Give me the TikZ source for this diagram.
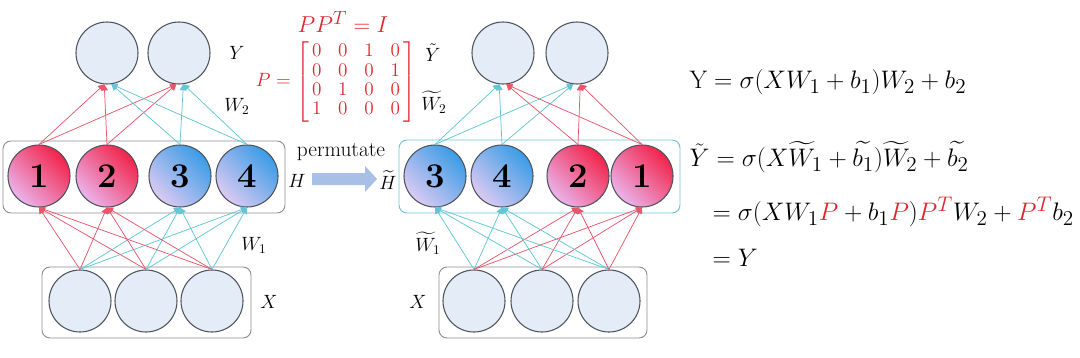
\documentclass[tikz,border=0pt]{standalone}
\usepackage{amsmath}
\usepackage{graphicx}
\usetikzlibrary{arrows.meta}
\definecolor{redc}{HTML}{E8566A}
\definecolor{bluec}{HTML}{62C6D6}
\definecolor{circfill}{HTML}{E4ECF8}
\definecolor{circdraw}{HTML}{4E535C}
\definecolor{eqred}{HTML}{E0262E}
\definecolor{redtop}{HTML}{F2234A}
\definecolor{redbot}{HTML}{EAB4EC}
\definecolor{bluetop}{HTML}{3A9CE6}
\definecolor{bluebot}{HTML}{DCCAF2}
\definecolor{arrowc}{HTML}{A9C0E6}
\definecolor{boxgray}{HTML}{8A8E96}
\definecolor{boxcyan}{HTML}{6CC4DA}
\newcommand{\eqsc}[1]{\scalebox{1.1}{#1}}
\begin{document}
\begin{tikzpicture}[x=0.75pt,y=-0.75pt,
  cbase/.style={circle, draw=circdraw, line width=0.8pt, minimum size=46.5pt, inner sep=0pt},
  plain/.style={cbase, fill=circfill},
  hred/.style={cbase, top color=redtop, bottom color=redbot, shading angle=-45, font=\rmfamily\bfseries\fontsize{26}{28}\selectfont},
  hblue/.style={cbase, top color=bluetop, bottom color=bluebot, shading angle=-45, font=\rmfamily\bfseries\fontsize{26}{28}\selectfont},
  redl/.style={draw=redc, line width=0.55pt, -{Triangle[length=4.5pt,width=5pt]}},
  bluel/.style={draw=bluec, line width=0.55pt, -{Triangle[length=4.5pt,width=5pt]}},
  lab/.style={font=\fontsize{14}{16}\selectfont, inner sep=1pt},
  hbox/.style={line width=0.7pt, rounded corners=6pt},
  eq/.style={anchor=west, font=\fontsize{19}{22}\selectfont, inner sep=1pt}
]
\useasboundingbox[fill=white] (0,0) rectangle (1080,357);

% boxes
\draw[hbox, draw=boxgray] (3,141) rectangle (285,213);
\draw[hbox, draw=boxgray] (42,267) rectangle (251,338);
\draw[hbox, draw=boxcyan] (399,140) rectangle (680,213);
\draw[hbox, draw=boxgray] (439,267) rectangle (647,338);

% left network
\node[plain] (y1) at (107,53) {};
\node[plain] (y2) at (179,53) {};
\node[hred] (h1) at (39,176) {1};
\node[hred] (h2) at (107,176) {2};
\node[hblue] (h3) at (180,176) {3};
\node[hblue] (h4) at (247,176) {4};
\node[plain] (x1) at (80,301) {};
\node[plain] (x2) at (146,301) {};
\node[plain] (x3) at (212,301) {};

% right network
\node[plain] (ry1) at (503,53) {};
\node[plain] (ry2) at (577,53) {};
\node[hblue] (rh3) at (435,176) {3};
\node[hblue] (rh4) at (502,176) {4};
\node[hred] (rh2) at (578,176) {2};
\node[hred] (rh1) at (642,176) {1};
\node[plain] (rx1) at (474,301) {};
\node[plain] (rx2) at (542,301) {};
\node[plain] (rx3) at (609,301) {};

% left connectors
\foreach \h in {h1,h2}{\foreach \y in {y1,y2}{\draw[redl] (\h.north) -- (\y.-95);}}
\foreach \h in {h3,h4}{\foreach \y in {y1,y2}{\draw[bluel] (\h.north) -- (\y.-82);}}
\foreach \x in {x1,x2,x3}{
  \foreach \h in {h1,h2}{\draw[redl] (\x.north) -- (\h.south);}
  \foreach \h in {h3,h4}{\draw[bluel] (\x.north) -- (\h.south);}
}
% right connectors
\foreach \h in {rh3,rh4}{\foreach \y in {ry1,ry2}{\draw[bluel] (\h.north) -- (\y.-97);}}
\foreach \h in {rh2,rh1}{\foreach \y in {ry1,ry2}{\draw[redl] (\h.north) -- (\y.-84);}}
\foreach \x in {rx1,rx2,rx3}{
  \foreach \h in {rh3,rh4}{\draw[bluel] (\x.north) -- (\h.south);}
  \foreach \h in {rh2,rh1}{\draw[redl] (\x.north) -- (\h.south);}
}

% labels left
\node[lab] (ly) at (237,53) {$Y$};
\node[lab] (lw2) at (237,106) {$W_2$};
\node[lab] (lh) at (297,181) {$H$};
\node[lab] (lw1) at (254,245) {$W_1$};
\node[lab] (lx) at (269,302) {$X$};
% labels right
\node[lab] (rly) at (433,53) {$\tilde{Y}$};
\node[lab] (rlw2) at (434,102) {$\widetilde{W}_2$};
\node[lab] (rlh) at (388,180) {$\widetilde{H}$};
\node[lab] (rlw1) at (428,243) {$\widetilde{W}_1$};
\node[lab] (rlx) at (418,302) {$X$};

% permutate arrow
\node (perm) at (341,152) {\fontsize{16}{18}\selectfont permutate};
\fill[arrowc] (312,173) -- (365,173) -- (365,166) -- (377,179) -- (365,192) -- (365,185) -- (312,185) -- cycle;

% permutation matrix
\node[text=eqred, font=\fontsize{19}{22}\selectfont, inner sep=1pt] (ppt) at (343,22) {$PP^T = I$};
\node[text=eqred, font=\fontsize{14}{14.5}\selectfont, inner sep=0pt] (pmat) at (336,82) {\setlength{\arraycolsep}{6.3pt}$P = \left[\begin{array}{@{\,}cccc@{\,}}0&0&1&0\\0&0&0&1\\0&1&0&0\\1&0&0&0\end{array}\right]$};

% equations
\node[eq] (e1) at (688,82) {\eqsc{$\mathrm{Y} = \sigma(XW_1 + b_1)W_2 + b_2$}};
\node[eq] (e2) at (688,157) {\eqsc{$\tilde{Y} = \sigma(X\widetilde{W}_1 + \widetilde{b_1})\widetilde{W}_2 + \widetilde{b_2}$}};
\node[eq] (e3) at (711,212) {\eqsc{$= \sigma(XW_1\textcolor{eqred}{P} + b_1\textcolor{eqred}{P})\textcolor{eqred}{P^T}W_2 + \textcolor{eqred}{P^T}b_2$}};
\node[eq] (e4) at (711,258) {\eqsc{$= Y$}};
\end{tikzpicture}
\end{document}
